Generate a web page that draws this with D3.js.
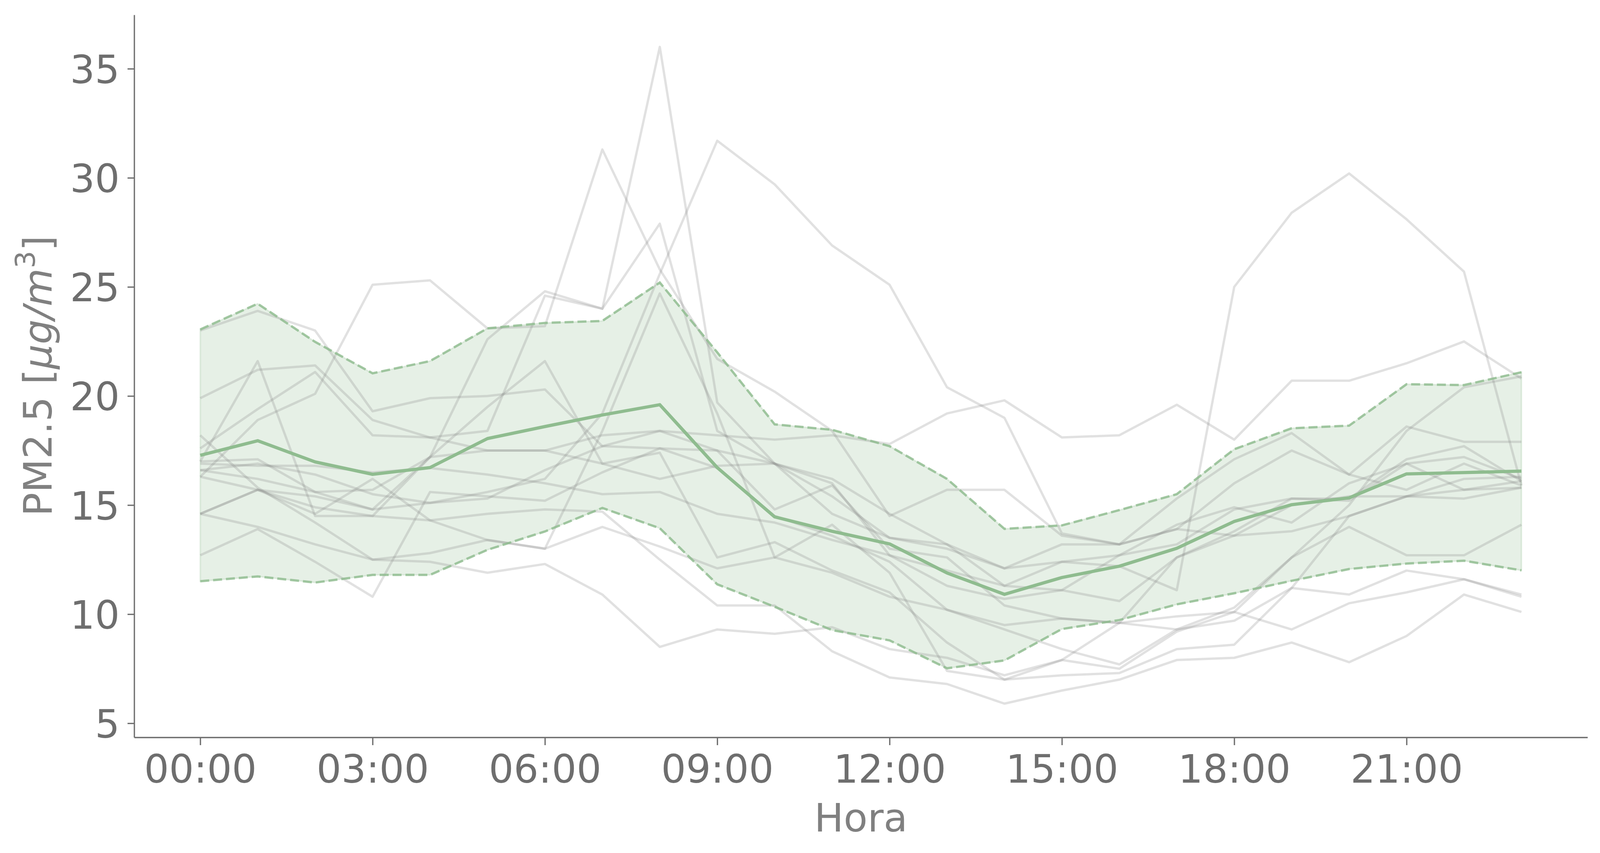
<!DOCTYPE html>
<html>
<head>
<meta charset="utf-8">
<script src="https://cdn.jsdelivr.net/npm/d3@7"></script>
<style>
  body { margin: 0; background: #ffffff; }
  svg { display: block; }
</style>
</head>
<body>
<svg id="chart" width="4103" height="2183"></svg>
<script>
// ---------- data ----------
const hours = [0,1,2,3,4,5,6,7,8,9,10,11,12,13,14,15,16,17,18,19,20,21,22,23];
const tickHours = [0,3,6,9,12,15,18,21];
const tickLabels = ["00:00","03:00","06:00","09:00","12:00","15:00","18:00","21:00"];
const yTicks = [5,10,15,20,25,30,35];

const meanPM  = [17.28,17.95,16.98,16.41,16.72,18.05,18.6,19.13,19.6,16.72,14.46,13.8,13.22,11.89,10.91,11.68,12.2,13.02,14.25,15.02,15.33,16.43,16.49,16.56];
const upperPM = [23.05,24.23,22.48,21.04,21.6,23.1,23.35,23.44,25.2,22.0,18.7,18.45,17.7,16.2,13.91,14.07,14.77,15.5,17.56,18.52,18.64,20.54,20.5,21.09];
const lowerPM = [11.51,11.73,11.45,11.8,11.8,12.95,13.79,14.87,13.94,11.37,10.34,9.27,8.8,7.52,7.88,9.32,9.73,10.45,10.96,11.53,12.07,12.32,12.45,12.01];

const dayA = [16.6,16.9,16.4,15.5,15.1,15.3,16.6,17.7,18.4,17.5,16.9,15.4,13.5,13.2,12.1,12.4,12.2,11.1,25.0,28.4,30.2,28.1,25.7,15.9];
const dayB = [14.6,15.7,15.4,14.8,15.1,15.6,16.2,19.2,25.6,31.7,29.7,26.9,25.1,20.4,19.0,13.7,13.2,13.9,13.6,13.8,14.5,15.4,16.2,16.3];
const dayC = [17.0,17.1,15.6,15.7,17.2,17.5,17.5,18.2,18.4,18.2,18.0,18.2,17.8,19.2,19.8,18.1,18.2,19.6,18.0,20.7,20.7,21.5,22.5,20.8];
const dayD = [16.3,18.9,20.1,25.1,25.3,23.1,23.2,31.3,25.8,21.7,20.2,18.4,14.5,15.7,15.7,13.6,13.2,15.3,17.1,18.3,16.4,18.6,17.9,17.9];
const dayE = [17.6,19.4,21.1,18.2,18.1,18.4,24.6,24.0,36.0,19.7,16.9,16.0,12.7,11.3,10.7,11.1,12.7,14.1,14.9,14.2,16.0,16.9,17.2,16.2];
const dayF = [23.0,23.9,23.0,19.3,19.9,20.0,20.3,17.7,17.6,17.5,14.8,15.9,13.0,12.6,10.4,9.8,9.6,9.3,10.3,12.6,14.0,12.7,12.7,14.1];
const dayG = [17.0,21.6,14.5,14.5,17.2,19.5,21.6,16.9,17.4,12.6,13.3,12.0,11.0,8.7,7.0,7.2,7.3,8.4,8.6,11.2,10.9,12.0,11.6,10.8];
const dayH = [12.7,13.9,12.4,10.8,15.6,15.4,15.2,16.5,17.6,16.7,14.5,13.6,12.4,10.2,9.5,9.8,9.6,9.9,10.1,9.3,10.5,11.0,11.6,10.9];
const dayJ = [19.9,21.2,21.4,18.9,18.1,17.5,17.5,16.9,16.2,16.8,16.9,16.2,14.6,13.2,11.3,12.4,12.7,13.2,14.8,15.3,15.3,17.1,17.7,16.1];
const dayK = [18.2,15.8,14.2,12.5,12.4,11.9,12.3,10.9,8.5,9.3,9.1,9.4,8.4,8.0,7.2,7.9,7.5,9.2,10.1,12.6,15.0,18.4,20.4,20.9];
const dayL = [16.3,15.7,14.9,14.5,14.3,14.6,14.8,14.7,12.5,10.4,10.4,8.3,7.1,6.8,5.9,6.5,7.0,7.9,8.0,8.7,7.8,9.0,10.9,10.1];
const dayM = [14.6,14.0,13.2,12.5,12.8,13.4,13.0,14.0,13.1,12.1,12.6,11.9,10.8,10.2,9.3,8.4,7.7,9.3,9.7,11.2,14.5,15.4,15.3,15.8];
const dayN = [16.9,16.8,16.8,16.5,16.7,16.4,16.0,15.5,15.6,14.6,14.2,13.4,12.7,12.0,11.3,11.1,10.6,12.6,13.8,15.3,15.2,16.9,15.7,15.8];
const dayO = [16.6,16.2,15.6,14.8,17.2,22.6,24.8,24.0,27.9,18.4,16.9,14.6,13.5,13.0,12.1,13.2,13.2,13.9,16.0,17.5,16.4,15.7,16.9,15.9];
const dayP = [14.6,15.7,14.6,16.2,14.3,13.4,13.0,18.4,24.7,19.2,12.6,14.1,11.9,7.4,7.0,7.9,9.6,12.6,13.6,15.0,15.4,15.4,15.7,16.1];
const dailySeries = [dayA,dayB,dayC,dayD,dayE,dayF,dayG,dayH,dayJ,dayK,dayL,dayM,dayN,dayO,dayP];

// ---------- layout ----------
const svg = d3.select("#chart");
const FONT = "DejaVu Sans";
const AXC = "#6e6e6e";
const LABC = "#808080";
const GREEN = "#8fbc8f";

const x = d3.scaleLinear().domain([-1.15, 24.15]).range([343.5, 4064]);
const y = d3.scaleLinear().domain([4.355, 37.47]).range([1887, 38]);

const lineGen = d3.line().x((d, i) => x(hours[i])).y(d => y(d));
const areaGen = d3.area()
  .x(i => x(hours[i]))
  .y0(i => y(lowerPM[i]))
  .y1(i => y(upperPM[i]));

// band
svg.append("path")
  .datum(hours.map((h, i) => i))
  .attr("d", areaGen)
  .attr("fill", GREEN).attr("fill-opacity", 0.22)
  .attr("stroke", GREEN).attr("stroke-opacity", 0.22).attr("stroke-width", 4);

// daily profiles
svg.append("g").selectAll("path")
  .data(dailySeries)
  .join("path")
  .attr("d", lineGen)
  .attr("fill", "none")
  .attr("stroke", "#808080")
  .attr("stroke-opacity", 0.24)
  .attr("stroke-width", 6)
  .attr("stroke-linejoin", "round")
  .attr("stroke-linecap", "butt");

// bounds
[upperPM, lowerPM].forEach(arr => {
  svg.append("path")
    .datum(arr)
    .attr("d", lineGen)
    .attr("fill", "none")
    .attr("stroke", GREEN)
    .attr("stroke-opacity", 0.8)
    .attr("stroke-width", 6)
    .attr("stroke-dasharray", "23,10");
});

// mean
svg.append("path")
  .datum(meanPM)
  .attr("d", lineGen)
  .attr("fill", "none")
  .attr("stroke", GREEN)
  .attr("stroke-width", 8.3)
  .attr("stroke-linejoin", "round");

// axes
const yAxis = d3.axisLeft(y).tickValues(yTicks).tickSize(17).tickSizeOuter(0).tickPadding(20);
const gy = svg.append("g").attr("transform", "translate(343.5,0)").call(yAxis);
gy.attr("font-family", FONT).attr("font-size", 100);
gy.select(".domain").attr("stroke", AXC).attr("stroke-width", 3.3);
gy.selectAll(".tick line").attr("stroke", AXC).attr("stroke-width", 3.3);
gy.selectAll(".tick text").attr("fill", AXC).attr("dy", "0.365em");

const xAxis = d3.axisBottom(x).tickValues(tickHours)
  .tickFormat((d, i) => tickLabels[i]).tickSize(20).tickSizeOuter(0).tickPadding(25);
const gx = svg.append("g").attr("transform", "translate(0,1887)").call(xAxis);
gx.attr("font-family", FONT).attr("font-size", 100);
gx.select(".domain").attr("stroke", AXC).attr("stroke-width", 3.3);
gx.selectAll(".tick line").attr("stroke", AXC).attr("stroke-width", 3.3);
gx.selectAll(".tick text").attr("fill", AXC);

// axis titles
const yl = svg.append("text")
  .attr("transform", "translate(132,962) rotate(-90)")
  .attr("text-anchor", "middle")
  .attr("font-family", FONT)
  .attr("font-size", 100)
  .attr("fill", LABC);
yl.append("tspan").text("PM2.5 [");
yl.append("tspan").attr("font-style", "italic").text("μg/m");
yl.append("tspan").attr("font-size", 70).attr("dy", -43).text("3");
yl.append("tspan").attr("dy", 43).text("]");

svg.append("text")
  .attr("x", 2204).attr("y", 2128)
  .attr("text-anchor", "middle")
  .attr("font-family", FONT)
  .attr("font-size", 100)
  .attr("fill", LABC)
  .text("Hora");
</script>
</body>
</html>
